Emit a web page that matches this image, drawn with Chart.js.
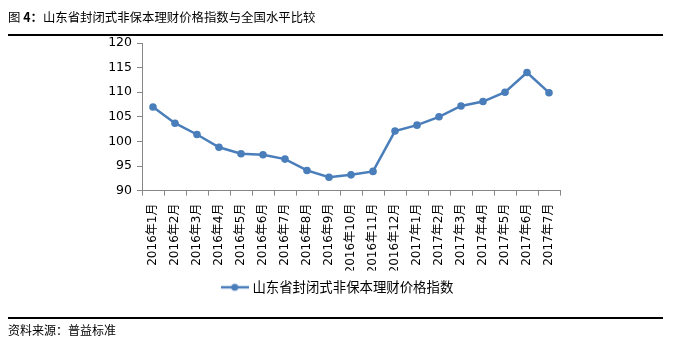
<!DOCTYPE html>
<html>
<head>
<meta charset="utf-8">
<script src="https://cdn.jsdelivr.net/npm/chart.js@4/dist/chart.umd.min.js"></script>
<style>
html,body{margin:0;padding:0;background:#fff;}
#wrap{position:relative;width:677px;height:340px;overflow:hidden;background:#fff;}
#c{position:absolute;left:0;top:0;}
.t{position:absolute;font-family:"Noto Sans CJK SC",sans-serif;color:#000;white-space:nowrap;}
#title{left:8px;top:8px;font-size:12.4px;line-height:18px;}
#source{left:8px;top:321px;font-size:12px;line-height:18px;}
.rule{position:absolute;left:8px;width:655px;height:2px;background:#000;}
</style>
</head>
<body>
<div id="wrap">
  <canvas id="c" width="677" height="340"></canvas>
  <div class="t" id="title">图 <b>4：</b>山东省封闭式非保本理财价格指数与全国水平比较</div>
  <div class="rule" style="top:34px"></div>
  <div class="rule" style="top:317px"></div>
  <div class="t" id="source">资料来源：普益标准</div>
</div>
<script>
const categories = ["2016年1月","2016年2月","2016年3月","2016年4月","2016年5月","2016年6月","2016年7月","2016年8月","2016年9月","2016年10月","2016年11月","2016年12月","2017年1月","2017年2月","2017年3月","2017年4月","2017年5月","2017年6月","2017年7月"];
const seriesName = "山东省封闭式非保本理财价格指数";
const indexValues = [107.0,103.7,101.4,98.8,97.5,97.3,96.4,94.1,92.7,93.2,93.9,102.1,103.3,105.0,107.2,108.1,110.0,114.0,109.9];
const yMin = 90, yMax = 120, yStep = 5;

const blue = "#4A7EBB";
const axisGray = "#868686";

// legend marker: line with dot
const mk = document.createElement("canvas");
mk.width = 28; mk.height = 10;
const mctx = mk.getContext("2d");
mctx.strokeStyle = blue; mctx.lineWidth = 2.5;
mctx.beginPath(); mctx.moveTo(0,5); mctx.lineTo(28,5); mctx.stroke();
mctx.fillStyle = blue;
mctx.beginPath(); mctx.arc(14,5,3.5,0,Math.PI*2); mctx.fill();

new Chart(document.getElementById("c"), {
  type: "line",
  data: {
    labels: categories,
    datasets: [{
      label: seriesName,
      data: indexValues,
      borderColor: blue,
      backgroundColor: blue,
      borderWidth: 2.5,
      pointRadius: 3.8,
      pointBackgroundColor: blue,
      pointBorderColor: blue,
      pointBorderWidth: 0,
      tension: 0,
      fill: false
    }]
  },
  options: {
    responsive: false,
    devicePixelRatio: 1,
    animation: false,
    layout: { padding: { left: 0, top: 43, right: 0, bottom: 36 } },
    plugins: {
      tooltip: { enabled: false },
      legend: {
        position: "bottom",
        labels: {
          usePointStyle: true,
          pointStyleWidth: 22,
          padding: 10,
          color: "#000",
          font: { family: "'Noto Sans CJK SC', sans-serif", size: 13.4 },
          generateLabels: (chart) => [{
            text: seriesName,
            pointStyle: mk,
            fillStyle: blue,
            strokeStyle: blue,
            lineWidth: 0,
            hidden: false,
            datasetIndex: 0
          }]
        }
      }
    },
    scales: {
      x: {
        offset: true,
        afterFit: (s) => { s.height = 80; },
        grid: { display: true, drawOnChartArea: false, drawTicks: true, tickLength: 5, offset: true, color: axisGray },
        border: { display: true, color: axisGray, width: 1 },
        ticks: {
          autoSkip: false, minRotation: 90, maxRotation: 90, padding: 8,
          color: "#000",
          font: { family: "'DejaVu Sans', 'Noto Sans CJK SC', sans-serif", size: 12 }
        }
      },
      y: {
        min: yMin, max: yMax,
        afterFit: (s) => { s.width = 142; },
        grid: { display: true, drawOnChartArea: false, drawTicks: true, tickLength: 5, color: axisGray },
        border: { display: true, color: axisGray, width: 1 },
        ticks: {
          stepSize: yStep, padding: 5, color: "#000",
          font: { family: "'DejaVu Sans', sans-serif", size: 12.5 }
        }
      },
      yRight: {
        position: "right",
        min: yMin, max: yMax,
        afterFit: (s) => { s.width = 117; },
        grid: { display: false },
        border: { display: false },
        ticks: { display: false }
      }
    }
  }
});
</script>
</body>
</html>
